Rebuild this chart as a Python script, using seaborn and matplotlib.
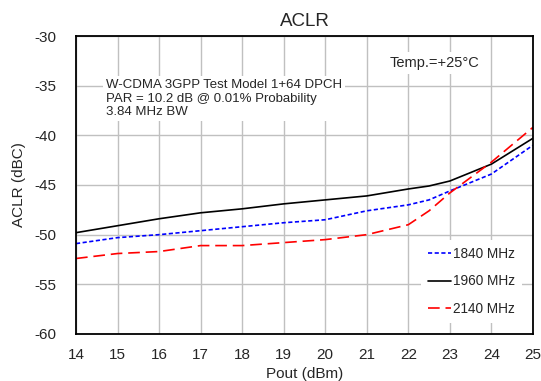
import numpy as np
import pandas as pd
import matplotlib
matplotlib.use("Agg")
import matplotlib.pyplot as plt
import seaborn as sns

# values
pout = [14, 15, 16, 17, 18, 19, 20, 21, 22, 22.5, 23, 24, 25]
aclr_1840 = [-50.9, -50.3, -50.0, -49.6, -49.2, -48.8, -48.5, -47.6, -47.0, -46.5, -45.6, -43.9, -41.0]
aclr_1960 = [-49.8, -49.1, -48.4, -47.8, -47.4, -46.9, -46.5, -46.1, -45.4, -45.1, -44.6, -42.9, -40.3]
aclr_2140 = [-52.4, -51.9, -51.7, -51.1, -51.1, -50.8, -50.5, -50.0, -49.0, -47.6, -45.8, -42.7, -39.2]
series_names = ["1840 MHz", "1960 MHz", "2140 MHz"]

df = pd.DataFrame({
    "Pout": pout * 3,
    "ACLR": aclr_1840 + aclr_1960 + aclr_2140,
    "Freq": np.repeat(series_names, len(pout)),
})

sns.set_style("white")
plt.rcParams["font.family"] = ["Liberation Sans", "DejaVu Sans"]
plt.rcParams["axes.unicode_minus"] = False

fig = plt.figure(figsize=(5.41, 3.81), dpi=100)
ax = fig.add_axes([0.1405, 0.1234, 0.8445, 0.7821])

sns.lineplot(
    data=df, x="Pout", y="ACLR", hue="Freq", style="Freq",
    palette={"1840 MHz": "#0000ff", "1960 MHz": "#000000", "2140 MHz": "#ff0000"},
    dashes={"1840 MHz": (2.5, 1.5), "1960 MHz": "", "2140 MHz": (7, 3.5)},
    linewidth=1.2, ax=ax, legend=True,
)

ax.set_xlim(14, 25)
ax.set_ylim(-60, -30)
ax.set_xticks(range(14, 26))
ax.set_yticks(range(-60, -29, 5))
ax.grid(True, color="#c0c0c0", linewidth=1.0)
ax.set_axisbelow(True)
for s in ax.spines.values():
    s.set_color("black")
    s.set_linewidth(1.3)
ax.tick_params(length=0, labelsize=11)
ax.tick_params(axis="x", pad=10)
ax.tick_params(axis="y", pad=14)

ax.set_title("ACLR", fontsize=13.5, pad=7)
ax.set_xlabel("Pout (dBm)", fontsize=11, labelpad=4)
ax.set_ylabel("ACLR (dBC)", fontsize=11, labelpad=6)

ax.text(14.72, -36.3,
        "W-CDMA 3GPP Test Model 1+64 DPCH\nPAR = 10.2 dB @ 0.01% Probability\n3.84 MHz BW",
        fontsize=9.5, va="center", ha="left", linespacing=1.15,
        bbox=dict(facecolor="white", edgecolor="none", pad=2))
ax.text(22.64, -32.7, "Temp.=+25°C", fontsize=10.5, va="center", ha="center",
        bbox=dict(facecolor="white", edgecolor="none", pad=3))

leg = ax.legend(loc="lower right", bbox_to_anchor=(0.99, 0.015), frameon=True,
                fontsize=9.8, handlelength=1.7, handletextpad=0.1,
                labelspacing=1.0, borderpad=0.5)
leg.get_frame().set_facecolor("white")
leg.get_frame().set_edgecolor("none")
leg.get_frame().set_alpha(1)

fig.savefig("out.png", dpi=100)
